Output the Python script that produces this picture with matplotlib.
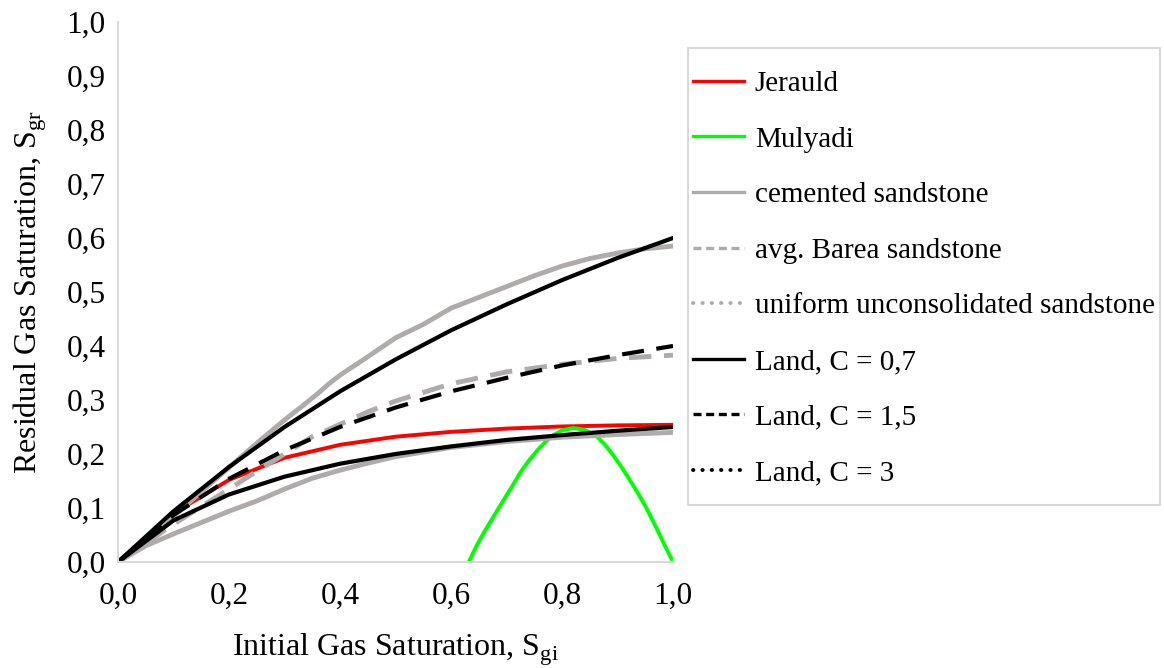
# Residual gas saturation vs initial gas saturation.
import matplotlib
matplotlib.use('Agg')
import matplotlib.pyplot as plt
from matplotlib.lines import Line2D
from matplotlib.patches import Rectangle
from matplotlib.ticker import FuncFormatter

plt.rcParams['font.family'] = 'Liberation Serif'
plt.rcParams['mathtext.fontset'] = 'custom'
plt.rcParams['mathtext.rm'] = 'Liberation Serif'

# Values.
x_grid = [0.0, 0.1, 0.2, 0.3, 0.4, 0.5, 0.6, 0.7, 0.8, 0.9, 1.0]
jerauld = [0.0, 0.090, 0.152, 0.193, 0.217, 0.232, 0.241, 0.247, 0.251, 0.253, 0.254]

mulyadi_x = [0.632, 0.645, 0.66, 0.683, 0.71, 0.725, 0.742, 0.76, 0.78, 0.80, 0.82, 0.84,
             0.86, 0.876, 0.892, 0.907, 0.922, 0.937, 0.95, 0.971, 0.985, 1.0]
mulyadi_y = [0.0, 0.028, 0.056, 0.095, 0.140, 0.166, 0.190, 0.212, 0.232, 0.244, 0.248, 0.245,
             0.235, 0.219, 0.198, 0.176, 0.152, 0.127, 0.104, 0.061, 0.031, 0.0]

cemented_x = [0.0, 0.05, 0.1, 0.15, 0.2, 0.25, 0.3, 0.33, 0.36, 0.38, 0.4, 0.45, 0.5, 0.55,
              0.6, 0.65, 0.7, 0.75, 0.8, 0.85, 0.9, 0.95, 1.0]
cemented_y = [0.0, 0.040, 0.085, 0.130, 0.175, 0.220, 0.263, 0.287, 0.312, 0.330, 0.346, 0.380, 0.415,
              0.440, 0.470, 0.490, 0.510, 0.530, 0.548, 0.562, 0.572, 0.580, 0.585]

barea_x = [0.0, 0.1, 0.2, 0.25, 0.3, 0.35, 0.4, 0.45, 0.5, 0.6, 0.7, 0.8, 0.9, 1.0]
barea_y = [0.0, 0.070, 0.135, 0.168, 0.200, 0.232, 0.255, 0.278, 0.298, 0.330, 0.352, 0.366, 0.377, 0.383]

uniform_x = [0.0, 0.05, 0.1, 0.15, 0.2, 0.25, 0.3, 0.35, 0.4, 0.45, 0.5, 0.6, 0.7, 0.8, 0.9, 1.0]
uniform_y = [0.0, 0.030, 0.052, 0.073, 0.094, 0.113, 0.135, 0.155, 0.170, 0.183, 0.195, 0.212,
             0.223, 0.231, 0.236, 0.240]

land_07 = [0.0, 0.094, 0.176, 0.250, 0.316, 0.375, 0.429, 0.477, 0.522, 0.563, 0.600]
land_15 = [0.0, 0.087, 0.154, 0.207, 0.250, 0.286, 0.316, 0.341, 0.364, 0.383, 0.400]
land_3 = [0.0, 0.077, 0.125, 0.158, 0.182, 0.200, 0.214, 0.226, 0.235, 0.243, 0.250]

labels = ['Jerauld', 'Mulyadi', 'cemented sandstone', 'avg. Barea sandstone',
          'uniform unconsolidated sandstone', 'Land, C = 0,7', 'Land, C = 1,5', 'Land, C = 3']

gray = '#AFABAB'
lw = 3.0
glw = 3.5
dash = (5.3, 3.0)

fig = plt.figure(figsize=(11.64, 6.68), dpi=100)
ax = fig.add_axes([0.1014, 0.1587, 0.4768, 0.8084])

ax.plot(x_grid, jerauld, color='#FF0000', lw=lw - 0.2, solid_joinstyle='round')
ax.plot(mulyadi_x, mulyadi_y, color='#00FF00', lw=lw - 0.2, solid_joinstyle='round')
ax.plot(cemented_x, cemented_y, color=gray, lw=glw, solid_joinstyle='round')
ax.plot(barea_x, barea_y, color=gray, lw=glw, dashes=(4.6, 2.6))
ax.plot(uniform_x, uniform_y, color=gray, lw=glw, solid_joinstyle='round')
ax.plot(x_grid, land_07, color='black', lw=lw, solid_joinstyle='round')
ax.plot(x_grid, land_15, color='black', lw=lw, dashes=dash)
ax.plot(x_grid, land_3, color='black', lw=lw, solid_joinstyle='round')

ax.set_xlim(0, 1)
ax.set_ylim(0, 1)
ax.set_xticks([0, 0.2, 0.4, 0.6, 0.8, 1.0])
ax.set_yticks([i / 10 for i in range(11)])
comma = FuncFormatter(lambda v, p: ('%.1f' % v).replace('.', ','))
ax.xaxis.set_major_formatter(comma)
ax.yaxis.set_major_formatter(comma)
ax.tick_params(length=0, labelsize=22.5)
ax.tick_params(axis='x', pad=14)
ax.tick_params(axis='y', pad=9)
for s in ['top', 'right']:
    ax.spines[s].set_visible(False)
for s in ['left', 'bottom']:
    ax.spines[s].set_color('#D9D9D9')
    ax.spines[s].set_linewidth(1.5)

ax.set_xlabel(r'Initial Gas Saturation, S$_{\mathregular{gi}}$', fontsize=23)
ax.set_ylabel(r'Residual Gas Saturation, S$_{\mathregular{gr}}$', fontsize=23)
ax.xaxis.set_label_coords(0.5, -0.128)
ax.yaxis.set_label_coords(-0.124, 0.5)

# Legend frame drawn by hand, legend shows the Excel line styles.
fig.patches.append(Rectangle((0.5911, 0.244), 0.4055, 0.684, transform=fig.transFigure,
                             facecolor='white', edgecolor='#D9D9D9', lw=1.5, zorder=0))
handles = [
    Line2D([], [], color='#FF0000', lw=2.4),
    Line2D([], [], color='#00FF00', lw=2.4),
    Line2D([], [], color=gray, lw=2.4),
    Line2D([], [], color=gray, lw=2.4, dashes=(2.4, 1.4)),
    Line2D([], [], color=gray, lw=2.8, dashes=(0.1, 2.3), dash_capstyle='round'),
    Line2D([], [], color='black', lw=2.4),
    Line2D([], [], color='black', lw=2.4, dashes=(2.4, 1.4)),
    Line2D([], [], color='black', lw=2.8, dashes=(0.1, 2.3), dash_capstyle='round'),
]
leg = fig.legend(handles, labels, loc='upper left', bbox_to_anchor=(0.590, 0.903),
                 fontsize=21, frameon=False,
                 handlelength=1.75, handletextpad=0.38, labelspacing=1.0,
                 borderpad=0.2, borderaxespad=0)

fig.savefig('out.png', dpi=100)
